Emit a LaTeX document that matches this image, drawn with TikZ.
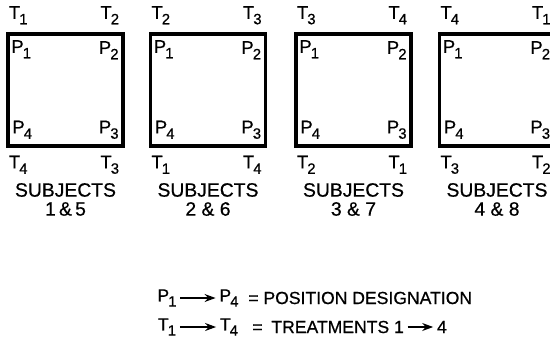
\documentclass[tikz,border=0pt]{standalone}
\usepackage{fontspec}
\setmainfont{Liberation Sans}[FakeBold=0.6]
\usetikzlibrary{arrows.meta,positioning}
\newcommand\subl[2]{#1\kern-0.5pt\raisebox{-0.55ex}{\fontsize{8.5}{9}\selectfont #2}}
\tikzset{
  arr/.style={-{Stealth[length=2.2mm,width=1.6mm]},line width=0.7pt,shorten <=2pt,shorten >=2pt},
  square/.style={draw,line width=2pt,minimum width=2.3cm,minimum height=2.24cm,inner sep=0pt},
  lab/.style={inner sep=0pt,font=\fontsize{10.5}{11}\selectfont},
  subj/.style={inner sep=0pt,font=\fontsize{11}{12}\selectfont,align=center},
  legend/.style={inner sep=0pt,font=\fontsize{10}{11}\selectfont}
}

\begin{document}
\begin{tikzpicture}[x=0.02cm,y=-0.02cm]
  \useasboundingbox (0,0) rectangle (550,348);
  % the four squares
  \foreach \i/\cx/\ta/\tb/\tc/\td/\who in {1/65.5/1/2/3/4/1\,\&\,5,2/208/2/3/4/1/2 \& 6,3/353.5/3/4/1/2/3 \& 7,4/497/4/1/2/3/4 \& 8}{
    \node[square] (box\i) at (\cx,90) {};
    \node[lab] (tl\i) at ([shift={(12,-17)}]box\i.north west) {\subl{T}{\ta}};
    \node[lab] (tr\i) at ([shift={(-15,-17)}]box\i.north east) {\subl{T}{\tb}};
    \node[lab] (br\i) at ([shift={(-15,17)}]box\i.south east) {\subl{T}{\tc}};
    \node[lab] (bl\i) at ([shift={(12,17)}]box\i.south west) {\subl{T}{\td}};
    \node[lab] (p1\i) at ([shift={(15,17)}]box\i.north west) {\subl{P}{1}};
    \node[lab] (p2\i) at ([shift={(-16,18)}]box\i.north east) {\subl{P}{2}};
    \node[lab] (p3\i) at ([shift={(-16,-18)}]box\i.south east) {\subl{P}{3}};
    \node[lab] (p4\i) at ([shift={(16,-18)}]box\i.south west) {\subl{P}{4}};
    \node[subj] (sub\i) at (\cx,190) {SUBJECTS};
    \node[subj] (num\i) at (\cx,209) {\who};
  }
  % legend
  \node[legend] (lp1) at (167,298) {\subl{P}{1}};
  \node[legend] (lp4) at (229,298) {\subl{P}{4}};
  \node[legend,anchor=west] (lpos) at (248,298) {= POSITION DESIGNATION};
  \node[legend] (lt1) at (167,327) {\subl{T}{1}};
  \node[legend] (lt4) at (229,327) {\subl{T}{4}};
  \node[legend,anchor=west] (ltr) at (252,327) {=\enspace TREATMENTS 1};
  \node[legend,right=6.5mm of ltr] (lfour) {4};
  \draw[arr] (lp1) -- (lp4);
  \draw[arr] (lt1) -- (lt4);
  \draw[arr] (ltr) -- (lfour);
\end{tikzpicture}
\end{document}
